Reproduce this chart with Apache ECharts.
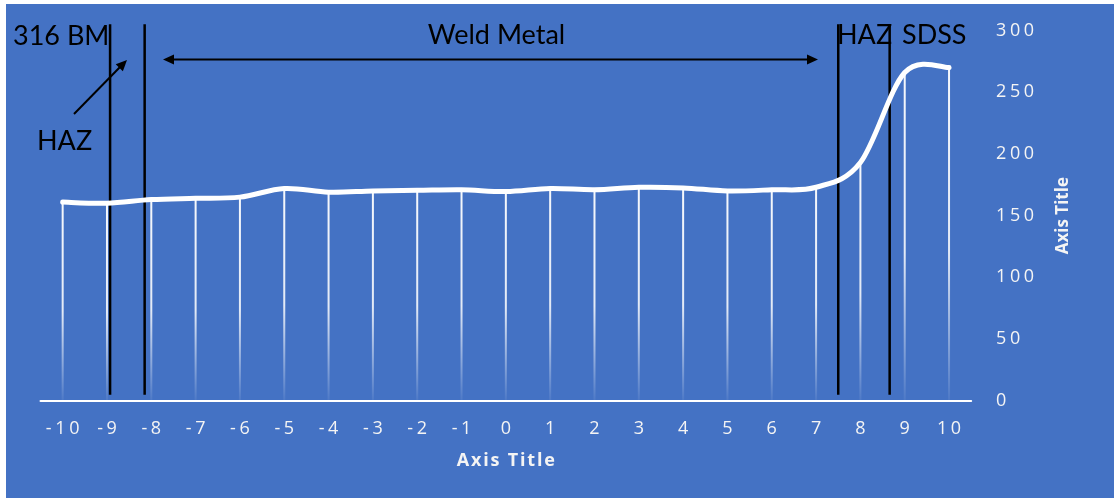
<!DOCTYPE html>
<html>
<head>
<meta charset="utf-8">
<title>Hardness profile across the weld</title>
<script src="https://cdn.jsdelivr.net/npm/echarts@6/dist/echarts.min.js"></script>
<style>
  html, body { margin: 0; padding: 0; background: #ffffff; }
  #chart { position: absolute; left: 6px; top: 4px; width: 1108px; height: 494px; }
</style>
</head>
<body>
<div id="chart"></div>
<script>
// Measurement positions across the joint (mm from weld centre)
const positions = ['-10', '-9', '-8', '-7', '-6', '-5', '-4', '-3', '-2', '-1', '0',
                   '1', '2', '3', '4', '5', '6', '7', '8', '9', '10'];

// Hardness at each position
const hardness = [161, 160, 163, 164, 165, 172, 169, 170, 170.5, 171, 169.5,
                  172, 171, 173, 172.5, 170, 171, 173, 193, 266, 270];

// Hardness axis range
const hardnessMin = 0;
const hardnessMax = 300;
const hardnessStep = 50;

// Zone boundaries, in position units: 316 BM | HAZ | Weld Metal | HAZ | SDSS
const zoneBoundaries = [-8.93, -8.15, 7.5, 8.66];

const BLUE = '#4472C4';
const TEXT_WHITE = '#f4f4f4';

// Wide-tracked axis text: every character becomes its own padded rich token
function tracked(text, style) {
  return String(text).split('').map(c => '{' + style + '|' + c + '}').join('');
}

const tickRich = { fontFamily: 'Open Sans', fontSize: 18, color: TEXT_WHITE, padding: [0, 1.8, 0, 1.8] };

// Smoothed curve through the readings (Catmull-Rom as cubic Bezier segments)
function renderCurve(params, api) {
  if (params.dataIndex !== 0) return null;
  const pts = hardness.map((v, i) => api.coord([i, v]));
  const n = pts.length;
  let d = 'M' + pts[0][0] + ' ' + pts[0][1];
  for (let i = 0; i < n - 1; i++) {
    const p0 = pts[Math.max(0, i - 1)];
    const p1 = pts[i];
    const p2 = pts[i + 1];
    const p3 = pts[Math.min(n - 1, i + 2)];
    const c1x = p1[0] + (p2[0] - p0[0]) / 6, c1y = p1[1] + (p2[1] - p0[1]) / 6;
    const c2x = p2[0] - (p3[0] - p1[0]) / 6, c2y = p2[1] - (p3[1] - p1[1]) / 6;
    d += ' C' + c1x + ' ' + c1y + ' ' + c2x + ' ' + c2y + ' ' + p2[0] + ' ' + p2[1];
  }
  return {
    type: 'path',
    shape: { pathData: d },
    style: { fill: 'none', stroke: '#ffffff', lineWidth: 5, lineCap: 'round', lineJoin: 'round' }
  };
}

const chart = echarts.init(document.getElementById('chart'));

const option = {
  animation: false,
  backgroundColor: BLUE,
  grid: { left: 34.5, right: 142.8, top: 26.5, bottom: 97.2, containLabel: false },
  xAxis: {
    type: 'category',
    data: positions,
    boundaryGap: true,
    name: tracked('Axis Title', 'n'),
    nameLocation: 'middle',
    nameGap: 51,
    nameTextStyle: {
      color: TEXT_WHITE,
      rich: { n: { fontFamily: 'Open Sans', fontWeight: 'bold', fontSize: 18, color: TEXT_WHITE, padding: [0, 0.9, 0, 0.9] } }
    },
    axisLine: { show: true, lineStyle: { color: '#ffffff', width: 2 } },
    axisTick: { show: false },
    splitLine: { show: false },
    axisLabel: {
      interval: 0,
      margin: 19,
      color: TEXT_WHITE,
      formatter: v => tracked(v, 'c'),
      rich: { c: tickRich }
    }
  },
  yAxis: {
    type: 'value',
    position: 'right',
    min: hardnessMin,
    max: hardnessMax,
    interval: hardnessStep,
    name: 'Axis Title',
    nameLocation: 'middle',
    nameRotate: 90,
    nameGap: 83,
    nameTextStyle: { fontFamily: 'Open Sans', fontWeight: 'bold', fontSize: 17, color: TEXT_WHITE },
    axisLine: { show: false },
    axisTick: { show: false },
    splitLine: { show: false },
    axisLabel: {
      margin: 23,
      color: TEXT_WHITE,
      formatter: v => tracked(v, 'c'),
      rich: { c: tickRich }
    }
  },
  series: [
    {
      // drop lines from each reading down to the axis, fading out
      type: 'bar',
      data: hardness,
      barWidth: 2,
      silent: true,
      z: 1,
      itemStyle: {
        color: new echarts.graphic.LinearGradient(0, 0, 0, 1, [
          { offset: 0, color: 'rgba(255,255,255,0.95)' },
          { offset: 0.55, color: 'rgba(255,255,255,0.85)' },
          { offset: 1, color: 'rgba(255,255,255,0.05)' }
        ])
      }
    },
    {
      type: 'custom',
      data: hardness.map((v, i) => [i, v]),
      encode: { x: 0, y: 1 },
      renderItem: renderCurve,
      silent: true,
      z: 3
    }
  ]
};

chart.setOption(option);

// ---- zone annotations ----
const firstPos = Number(positions[0]);
function xPixel(pos) {
  const idx = pos - firstPos;
  const i0 = Math.max(0, Math.min(positions.length - 2, Math.floor(idx)));
  const p0 = chart.convertToPixel({ xAxisIndex: 0 }, i0);
  const p1 = chart.convertToPixel({ xAxisIndex: 0 }, i0 + 1);
  return p0 + (p1 - p0) * (idx - i0);
}
function yPixel(v) {
  return chart.convertToPixel({ yAxisIndex: 0 }, v);
}

function arrowHead(tipX, tipY, dx, dy, len, half) {
  const L = Math.hypot(dx, dy);
  const ux = dx / L, uy = dy / L;
  const bx = tipX - ux * len, by = tipY - uy * len;
  return {
    type: 'polygon',
    shape: { points: [[tipX, tipY], [bx - uy * half, by + ux * half], [bx + uy * half, by - ux * half]] },
    style: { fill: '#000000' }
  };
}

function label(text, x, y, align) {
  return {
    type: 'text',
    x: x, y: y,
    style: {
      text: text,
      font: '27px Lato',
      fill: '#000000',
      textAlign: align, align: align,
      textVerticalAlign: 'middle', verticalAlign: 'middle'
    }
  };
}

const lineTop = yPixel(305);
const lineBottom = yPixel(5);
const boundaryLines = zoneBoundaries.map(b => {
  const x = xPixel(b);
  return {
    type: 'line',
    shape: { x1: x, y1: lineTop, x2: x, y2: lineBottom },
    style: { stroke: '#000000', lineWidth: 2.5 }
  };
});

// Weld Metal span arrow
const spanY = 55.5;
const spanL = 157, spanR = 812;
// HAZ pointer arrow
const ptrFrom = [68, 110], ptrTo = [121, 56];

const graphics = [
  ...boundaryLines,
  { type: 'line', shape: { x1: spanL + 8, y1: spanY, x2: spanR - 8, y2: spanY }, style: { stroke: '#000000', lineWidth: 2 } },
  arrowHead(spanL, spanY, -1, 0, 11, 5),
  arrowHead(spanR, spanY, 1, 0, 11, 5),
  { type: 'line', shape: { x1: ptrFrom[0], y1: ptrFrom[1], x2: ptrTo[0] - 5, y2: ptrTo[1] + 5 }, style: { stroke: '#000000', lineWidth: 2 } },
  arrowHead(ptrTo[0], ptrTo[1], ptrTo[0] - ptrFrom[0], ptrTo[1] - ptrFrom[1], 11, 5),
  label('316 BM', 7, 32, 'left'),
  label('HAZ', 31, 137, 'left'),
  label('Weld Metal', 490.5, 31.5, 'center'),
  label('HAZ', 831, 31.5, 'left'),
  label('SDSS', 896, 31.5, 'left')
];

chart.setOption({ graphic: graphics });
</script>
</body>
</html>
